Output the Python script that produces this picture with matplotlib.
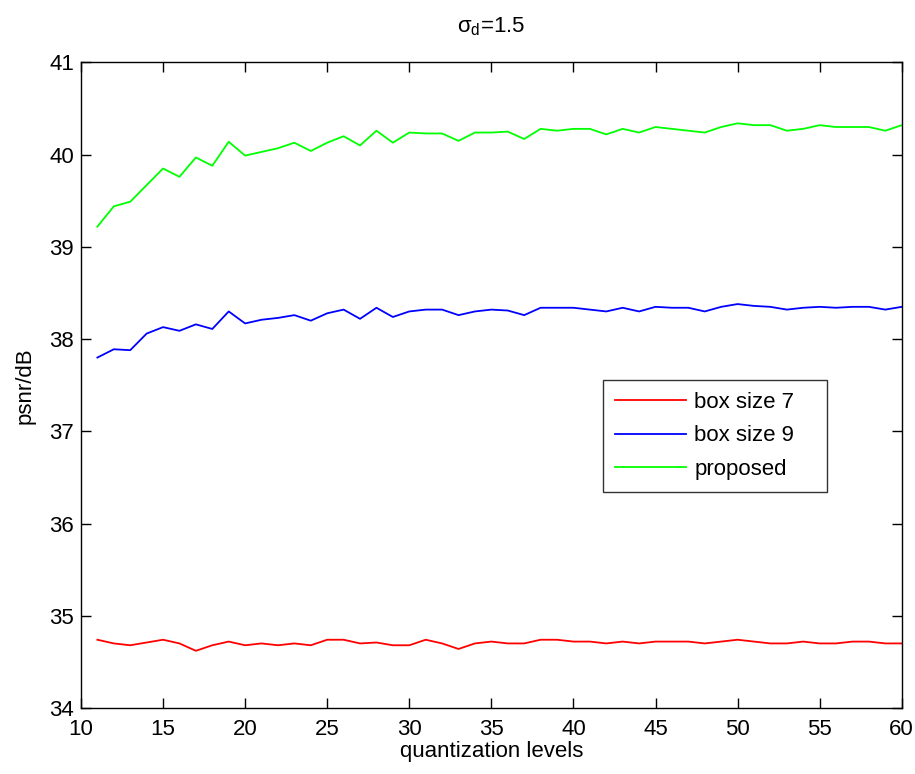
import matplotlib
matplotlib.use('Agg')
import matplotlib.pyplot as plt

plt.rcParams['font.family'] = ['Liberation Sans', 'DejaVu Sans']
plt.rcParams['mathtext.fontset'] = 'custom'
plt.rcParams['mathtext.rm'] = 'Liberation Sans'
plt.rcParams['mathtext.it'] = 'Liberation Sans'

# quantization levels 11..60
levels = list(range(11, 61))

box7 = [34.74, 34.70, 34.68, 34.71, 34.74, 34.70, 34.62, 34.68, 34.72, 34.68,
        34.70, 34.68, 34.70, 34.68, 34.74, 34.74, 34.70, 34.71, 34.68, 34.68,
        34.74, 34.70, 34.64, 34.70, 34.72, 34.70, 34.70, 34.74, 34.74, 34.72,
        34.72, 34.70, 34.72, 34.70, 34.72, 34.72, 34.72, 34.70, 34.72, 34.74,
        34.72, 34.70, 34.70, 34.72, 34.70, 34.70, 34.72, 34.72, 34.70, 34.70]

box9 = [37.80, 37.89, 37.88, 38.06, 38.13, 38.09, 38.16, 38.11, 38.30, 38.17,
        38.21, 38.23, 38.26, 38.20, 38.28, 38.32, 38.22, 38.34, 38.24, 38.30,
        38.32, 38.32, 38.26, 38.30, 38.32, 38.31, 38.26, 38.34, 38.34, 38.34,
        38.32, 38.30, 38.34, 38.30, 38.35, 38.34, 38.34, 38.30, 38.35, 38.38,
        38.36, 38.35, 38.32, 38.34, 38.35, 38.34, 38.35, 38.35, 38.32, 38.35]

proposed = [39.22, 39.44, 39.49, 39.67, 39.85, 39.76, 39.97, 39.88, 40.14, 39.99,
            40.03, 40.07, 40.13, 40.04, 40.13, 40.20, 40.10, 40.26, 40.13, 40.24,
            40.23, 40.23, 40.15, 40.24, 40.24, 40.25, 40.17, 40.28, 40.26, 40.28,
            40.28, 40.22, 40.28, 40.24, 40.30, 40.28, 40.26, 40.24, 40.30, 40.34,
            40.32, 40.32, 40.26, 40.28, 40.32, 40.30, 40.30, 40.30, 40.26, 40.32]

xticks = [10, 15, 20, 25, 30, 35, 40, 45, 50, 55, 60]
yticks = [34, 35, 36, 37, 38, 39, 40, 41]

fig = plt.figure(figsize=(9.15, 7.74), dpi=100)
ax = fig.add_axes([0.0885, 0.0853, 0.897, 0.834])

ax.plot(levels, box7, color='#ff0000', lw=1.3, label='box size 7')
ax.plot(levels, box9, color='#0000ff', lw=1.3, label='box size 9')
ax.plot(levels, proposed, color='#00ff00', lw=1.3, label='proposed')

ax.set_xlim(10, 60)
ax.set_ylim(34, 41)
ax.set_xticks(xticks)
ax.set_yticks(yticks)
ax.tick_params(direction='in', length=7, width=1, top=True, right=True,
               labelsize=16)
ax.tick_params(axis='x', pad=8)
ax.tick_params(axis='y', pad=5)
for s in ax.spines.values():
    s.set_linewidth(1.0)

ax.set_xlabel('quantization levels', fontsize=16, labelpad=1)
ax.set_ylabel('psnr/dB', fontsize=16, labelpad=10)
ax.set_title(r'$\mathregular{\sigma_d}$=1.5', fontsize=16, pad=22)

leg = ax.legend(loc='lower left', bbox_to_anchor=(0.636, 0.335, 0.273, 0.176),
                mode='expand', fontsize=16, frameon=True, fancybox=False,
                handlelength=3.2, handletextpad=0.35, borderaxespad=0,
                labelspacing=0.55, borderpad=0.55)
leg.get_frame().set_edgecolor('black')
leg.get_frame().set_linewidth(1.0)

fig.savefig('out.png', dpi=100)
